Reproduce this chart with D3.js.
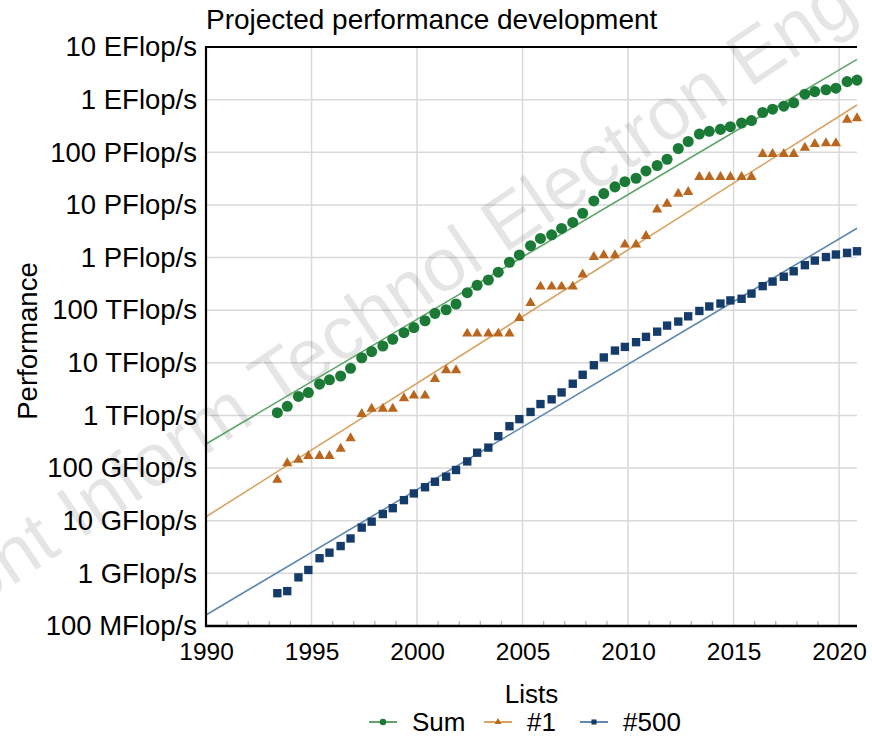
<!DOCTYPE html>
<html><head><meta charset="utf-8">
<script src="https://cdn.jsdelivr.net/npm/d3@7"></script>
<style>
body{margin:0;background:#fff}
svg{display:block}
text{font-family:"Liberation Sans",Arial,Helvetica,sans-serif;fill:#000}
</style>
</head><body>
<svg id="chart" width="872" height="741"></svg>
<script>
// ---------------- data ----------------
const lists = [
 "1993-06","1993-11","1994-06","1994-11","1995-06","1995-11","1996-06","1996-11",
 "1997-06","1997-11","1998-06","1998-11","1999-06","1999-11","2000-06","2000-11",
 "2001-06","2001-11","2002-06","2002-11","2003-06","2003-11","2004-06","2004-11",
 "2005-06","2005-11","2006-06","2006-11","2007-06","2007-11","2008-06","2008-11",
 "2009-06","2009-11","2010-06","2010-11","2011-06","2011-11","2012-06","2012-11",
 "2013-06","2013-11","2014-06","2014-11","2015-06","2015-11","2016-06","2016-11",
 "2017-06","2017-11","2018-06","2018-11","2019-06","2019-11","2020-06","2020-11"];
// performance in GFlop/s
const sumPerf = [
 1128, 1490, 2300, 2720, 3940, 4760, 5620, 7870,
 12500, 16300, 20900, 28000, 37400, 46600, 63000, 87000,
 102000, 131000, 215000, 298000, 375000, 527000, 813000, 1120000,
 1680000, 2310000, 2700000, 3570000, 4650000, 6950000, 11900000, 16400000,
 22000000, 27600000, 32100000, 44200000, 56000000, 73600000, 118000000, 160000000,
 222000000, 250000000, 272000000, 306000000, 360000000, 400000000, 570000000, 658000000,
 750000000, 870000000, 1270000000, 1420000000, 1540000000, 1650000000, 2200000000, 2350000000];
const top1Perf = [
 59.7, 124, 143.4, 170, 170, 170, 232.4, 368.2,
 1068, 1338, 1338, 1338, 2121, 2379, 2379, 4938,
 7226, 7226, 35860, 35860, 35860, 35860, 35860, 70720,
 136800, 280600, 280600, 280600, 280600, 478200, 1026000, 1105000,
 1105000, 1759000, 1759000, 2566000, 8162000, 10510000, 16320000, 17590000,
 33860000, 33860000, 33860000, 33860000, 33860000, 33860000, 93010000, 93010000,
 93010000, 93010000, 122300000, 143500000, 148600000, 148600000, 415500000, 442000000];
const top500Perf = [
 0.42, 0.46, 0.84, 1.16, 1.94, 2.47, 3.3, 4.6,
 7.4, 9.6, 13.4, 17.3, 24.6, 33.0, 43.3, 55.0,
 68.7, 92.0, 134, 196, 245, 403, 624, 851,
 1166, 1646, 2026, 2737, 4005, 5929, 9000, 12640,
 17090, 20050, 24670, 31120, 39090, 50940, 60820, 76500,
 96620, 117800, 133700, 153400, 164700, 206400, 286100, 349300,
 432200, 548300, 715600, 874800, 1022000, 1142000, 1228000, 1317000];
// projected trend lines (GFlop/s) at the ends of the x range
const trendYears = [1990, 2020.85];
const trendSum = [287, 5.83e9];
const trendTop1 = [11.9, 7.9e8];
const trend500 = [0.162, 3.6e6];

const xTicks = [1990, 1995, 2000, 2005, 2010, 2015, 2020];
const yTicks = [0.1, 1, 10, 100, 1e3, 1e4, 1e5, 1e6, 1e7, 1e8, 1e9, 1e10];
const yTickLabels = ["100 MFlop/s","1 GFlop/s","10 GFlop/s","100 GFlop/s","1 TFlop/s",
 "10 TFlop/s","100 TFlop/s","1 PFlop/s","10 PFlop/s","100 PFlop/s","1 EFlop/s","10 EFlop/s"];
const seriesNames = ["Sum", "#1", "#500"];
const monthOffset = {"06": 0.38, "11": 0.85};

// ---------------- layout ----------------
const svg = d3.select("#chart");
const L = 206, R = 857, T = 47, B = 626;
const x = d3.scaleLinear().domain([1990, 2020.85]).range([L, R]);
const y = d3.scaleLog().domain([0.1, 1e10]).range([B, T]);
const listX = lists.map(s => +s.slice(0,4) + monthOffset[s.slice(5)]);

const series = [
  {name: seriesNames[0], vals: sumPerf, trend: trendSum, mk: "#1b7a36", ln: "#5fa56a", sym: d3.symbolCircle, size: 96, lsize: 34},
  {name: seriesNames[1], vals: top1Perf, trend: trendTop1, mk: "#b9661f", ln: "#d8a25f", sym: d3.symbolTriangle, size: 46, lsize: 20},
  {name: seriesNames[2], vals: top500Perf, trend: trend500, mk: "#153b6a", ln: "#5f89b0", sym: d3.symbolSquare, size: 70, lsize: 26}
];

// grid
const grid = svg.append("g");
grid.selectAll("line.v").data(xTicks.filter(d => d > 1990)).join("line")
  .attr("x1", d => x(d)).attr("x2", d => x(d)).attr("y1", T).attr("y2", B)
  .attr("stroke", "#d9d9d9").attr("stroke-width", 1.5);
grid.selectAll("line.h").data(yTicks.slice(1, -1)).join("line")
  .attr("x1", L).attr("x2", R).attr("y1", d => y(d)).attr("y2", d => y(d))
  .attr("stroke", "#d9d9d9").attr("stroke-width", 1.5);
// minor year ticks
const minorYears = d3.range(1991, 2021).filter(v => v % 5 !== 0);
grid.selectAll("line.m").data(minorYears).join("line")
  .attr("x1", d => x(d)).attr("x2", d => x(d)).attr("y1", B).attr("y2", B - 5)
  .attr("stroke", "#b5b5b5").attr("stroke-width", 1.3);

// watermark
svg.append("text")
  .attr("transform", "translate(860,14) rotate(-34)")
  .attr("text-anchor", "end")
  .style("font-size", "75px")
  .style("fill", "#000").style("fill-opacity", 0.1)
  .text("Front Inform Technol Electron Eng");

// trend lines
const line = d3.line().x(d => x(d[0])).y(d => y(d[1]));
series.forEach(s => {
  svg.append("path")
    .attr("d", line(trendYears.map((t, i) => [t, s.trend[i]])))
    .attr("fill", "none").attr("stroke", s.ln).attr("stroke-width", 1.6);
});

// markers
series.forEach(s => {
  svg.append("g").selectAll("path").data(s.vals).join("path")
    .attr("transform", (d, i) => `translate(${x(listX[i])},${y(d)})`)
    .attr("d", d3.symbol().type(s.sym).size(s.size))
    .attr("fill", s.mk);
});

// frame lines
svg.append("line").attr("x1", L).attr("x2", R).attr("y1", T).attr("y2", T)
  .attr("stroke", "#000").attr("stroke-width", 2.2);
svg.append("line").attr("x1", L).attr("x2", L).attr("y1", T - 1).attr("y2", B + 1)
  .attr("stroke", "#000").attr("stroke-width", 2.2);
svg.append("line").attr("x1", L - 1).attr("x2", R).attr("y1", B).attr("y2", B)
  .attr("stroke", "#000").attr("stroke-width", 2.6);

// axes
const xAxis = svg.append("g").attr("transform", `translate(0,${B})`)
  .call(d3.axisBottom(x).tickValues(xTicks).tickFormat(d3.format("d")).tickSize(0).tickPadding(17));
xAxis.select(".domain").remove();
xAxis.selectAll("text").style("font-size", "24.5px").attr("fill", "#000");

const yAxis = svg.append("g").attr("transform", `translate(${L},0)`)
  .call(d3.axisLeft(y).tickValues(yTicks).tickFormat((d, i) => yTickLabels[i]).tickSize(0).tickPadding(9));
yAxis.select(".domain").remove();
yAxis.selectAll("text").style("font-size", "27.5px").attr("fill", "#000");

// titles
svg.append("text").attr("x", 206).attr("y", 29).style("font-size", "28px")
  .text("Projected performance development");
svg.append("text").attr("transform", "translate(37,341) rotate(-90)")
  .attr("text-anchor", "middle").style("font-size", "27.5px").text("Performance");
svg.append("text").attr("x", (L + R) / 2).attr("y", 703)
  .attr("text-anchor", "middle").style("font-size", "26px").text("Lists");

// legend
const legX = [369, 484, 580];
const legY = 722;
series.forEach((s, i) => {
  const g = svg.append("g");
  g.append("line").attr("x1", legX[i]).attr("x2", legX[i] + 28).attr("y1", legY).attr("y2", legY)
    .attr("stroke", s.ln).attr("stroke-width", 2);
  g.append("path").attr("transform", `translate(${legX[i] + 14},${legY})`)
    .attr("d", d3.symbol().type(s.sym).size(s.lsize)).attr("fill", s.mk);
  g.append("text").attr("x", legX[i] + 43).attr("y", 731).style("font-size", "26px").text(s.name);
});
</script>
</body></html>
